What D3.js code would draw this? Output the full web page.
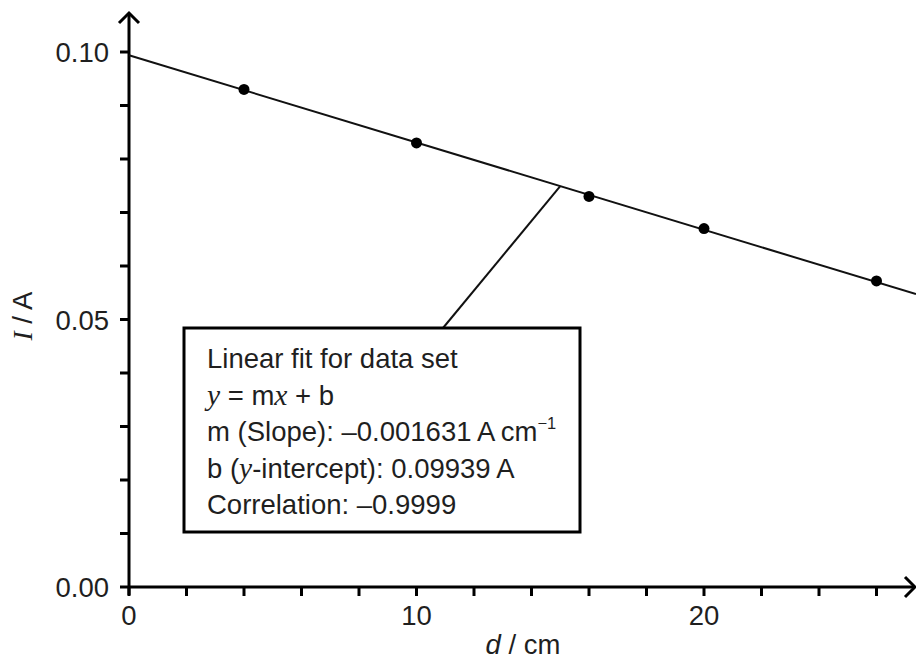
<!DOCTYPE html>
<html>
<head>
<meta charset="utf-8">
<script src="https://cdn.jsdelivr.net/npm/d3@7"></script>
<style>
  body { margin: 0; background: #fff; }
  text { font-family: "Liberation Sans", Arial, sans-serif; fill: #1f1f1f; }
  .it { font-family: "Liberation Serif", "Times New Roman", serif; font-style: italic; }
</style>
</head>
<body>
<svg id="chart" width="916" height="659"></svg>
<script>
// data
var dist = [4, 10, 16, 20, 26];              // d / cm
var current = [0.093, 0.083, 0.073, 0.067, 0.0572]; // I / A
var slope = -0.001631, intercept = 0.09939;
var xTicks = [0, 10, 20];
var yTicks = [0.00, 0.05, 0.10];
var fitLines = [
    [{t: "Linear fit for data set"}],
    [{t: "y", c: "it"}, {t: " = m"}, {t: "x", c: "it"}, {t: " + b"}],
    [{t: "m (Slope): \u20130.001631\u2009A\u2009cm"}, {t: "\u22121", sup: true}],
    [{t: "b ("}, {t: "y", c: "it"}, {t: "-intercept): 0.09939\u2009A"}],
    [{t: "Correlation: \u20130.9999"}]
];

var svg = d3.select("#chart");
var fs = 27.5;

var x = d3.scaleLinear().domain([0, 20]).range([129, 704]);
var y = d3.scaleLinear().domain([0, 0.10]).range([587, 52]);

var x0 = x(0), y0 = y(0);
var xEnd = 915, yTop = 13;

// axes lines
svg.append("line").attr("x1", x0).attr("x2", xEnd).attr("y1", y0).attr("y2", y0)
    .attr("stroke", "#000").attr("stroke-width", 3);
svg.append("line").attr("x1", x0).attr("x2", x0).attr("y1", y0 + 8).attr("y2", yTop)
    .attr("stroke", "#000").attr("stroke-width", 3);

// arrow heads
svg.append("path")
    .attr("d", "M" + (xEnd - 10) + "," + (y0 - 10) + "L" + xEnd + "," + y0 + "L" + (xEnd - 10) + "," + (y0 + 10))
    .attr("fill", "none").attr("stroke", "#000").attr("stroke-width", 3);
svg.append("path")
    .attr("d", "M" + (x0 - 10) + "," + (yTop + 10) + "L" + x0 + "," + yTop + "L" + (x0 + 10) + "," + (yTop + 10))
    .attr("fill", "none").attr("stroke", "#000").attr("stroke-width", 3);

// ticks, every 2 cm and every 0.01 A
var xMinor = d3.range(0, 28, 2);
var yMinor = d3.range(0, 11).map(function(i) { return i / 100; });

svg.append("g").selectAll("line").data(xMinor).join("line")
    .attr("x1", function(d) { return x(d); }).attr("x2", function(d) { return x(d); })
    .attr("y1", y0).attr("y2", y0 + 9)
    .attr("stroke", "#000").attr("stroke-width", 3);

svg.append("g").selectAll("line").data(yMinor).join("line")
    .attr("x1", x0 - 9).attr("x2", x0)
    .attr("y1", function(d) { return y(d); }).attr("y2", function(d) { return y(d); })
    .attr("stroke", "#000").attr("stroke-width", 3);

svg.append("g").selectAll("text").data(xTicks).join("text")
    .attr("x", function(d) { return x(d); })
    .attr("y", 625)
    .attr("text-anchor", "middle")
    .attr("font-size", fs)
    .text(function(d) { return d; });

svg.append("g").selectAll("text").data(yTicks).join("text")
    .attr("x", 109)
    .attr("y", function(d) { return y(d) + 10; })
    .attr("text-anchor", "end")
    .attr("font-size", fs)
    .text(function(d) { return d.toFixed(2); });

// axis titles
var xt = svg.append("text").attr("x", 523).attr("y", 654)
    .attr("text-anchor", "middle").attr("font-size", fs);
xt.append("tspan").attr("font-style", "italic").text("d");
xt.append("tspan").text(" / cm");

var yt = svg.append("text")
    .attr("transform", "translate(32,316) rotate(-90)")
    .attr("text-anchor", "middle").attr("font-size", fs);
yt.append("tspan").attr("class", "it").text("I");
yt.append("tspan").text(" / A");

// fit line
var fit = function(d) { return intercept + slope * d; };
var xMax = x.invert(916);
svg.append("line")
    .attr("x1", x(0)).attr("y1", y(fit(0)))
    .attr("x2", x(xMax)).attr("y2", y(fit(xMax)))
    .attr("stroke", "#111").attr("stroke-width", 2);

// points
svg.append("g").selectAll("circle").data(dist).join("circle")
    .attr("cx", function(d) { return x(d); })
    .attr("cy", function(d, i) { return y(current[i]); })
    .attr("r", 5.5)
    .attr("fill", "#000");

// callout box
var box = {x: 184, y: 328, w: 396, h: 204};
svg.append("line")
    .attr("x1", 443).attr("y1", box.y)
    .attr("x2", x(15)).attr("y2", y(fit(15)))
    .attr("stroke", "#111").attr("stroke-width", 2);

svg.append("rect")
    .attr("x", box.x).attr("y", box.y).attr("width", box.w).attr("height", box.h)
    .attr("fill", "#fff").attr("stroke", "#000").attr("stroke-width", 3);

var tb = svg.append("g");
fitLines.forEach(function(parts, i) {
    var t = tb.append("text")
        .attr("x", 207)
        .attr("y", 368 + i * 36.5)
        .attr("font-size", fs);
    parts.forEach(function(p) {
        var s = t.append("tspan").text(p.t);
        if (p.c) s.attr("class", p.c).attr("font-size", fs + 2);
        if (p.sup) s.attr("font-size", fs * 0.6).attr("dy", -12);
    });
});
</script>
</body>
</html>
